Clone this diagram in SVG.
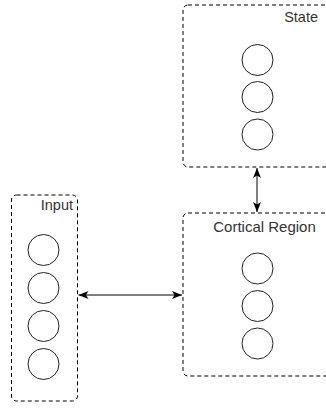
<svg xmlns="http://www.w3.org/2000/svg" width="326" height="408" viewBox="0 0 326 408">
<defs>
<style>
.box{fill:#fff;stroke:#000;stroke-width:1;stroke-dasharray:4 3}
.n{fill:#fff;stroke:#222;stroke-width:1}
.lbl{font-family:"Liberation Sans",Arial,sans-serif;font-size:14.5px;fill:#333}
.c{stroke:#000;stroke-width:1;fill:none}
</style>
<marker id="ah" viewBox="0 0 10 8" refX="10" refY="4" markerWidth="10" markerHeight="8" markerUnits="userSpaceOnUse" orient="auto-start-reverse">
<path d="M0,0 L10,4 L0,8 L2.5,4 Z" fill="#000"/>
</marker>
</defs>
<rect width="326" height="408" fill="#fff"/>
<g id="state">
<rect class="box" x="183" y="5" width="160" height="162" rx="5"/>
<text class="lbl" x="318" y="22" text-anchor="end">State</text>
<circle class="n" cx="257.5" cy="60" r="15.5"/>
<circle class="n" cx="257.5" cy="97" r="15.5"/>
<circle class="n" cx="257.5" cy="134.5" r="15.5"/>
</g>
<g id="cortical">
<rect class="box" x="183" y="213" width="160" height="163" rx="5"/>
<text class="lbl" x="264.5" y="232" text-anchor="middle" style="font-size:15px">Cortical Region</text>
<circle class="n" cx="257.5" cy="268.5" r="15.5"/>
<circle class="n" cx="257.5" cy="306" r="15.5"/>
<circle class="n" cx="257.5" cy="343.5" r="15.5"/>
</g>
<g id="input">
<rect class="box" x="11.5" y="195" width="66" height="206" rx="5"/>
<text class="lbl" x="73" y="210" text-anchor="end">Input</text>
<circle class="n" cx="43.5" cy="250" r="15.5"/>
<circle class="n" cx="43.5" cy="288" r="15.5"/>
<circle class="n" cx="43.5" cy="326" r="15.5"/>
<circle class="n" cx="43.5" cy="364" r="15.5"/>
</g>
<g id="connectors">
<line class="c" x1="257" y1="168" x2="257" y2="212" marker-start="url(#ah)" marker-end="url(#ah)"/>
<line class="c" x1="78.5" y1="295" x2="182" y2="295" marker-start="url(#ah)" marker-end="url(#ah)"/>
</g>
</svg>
